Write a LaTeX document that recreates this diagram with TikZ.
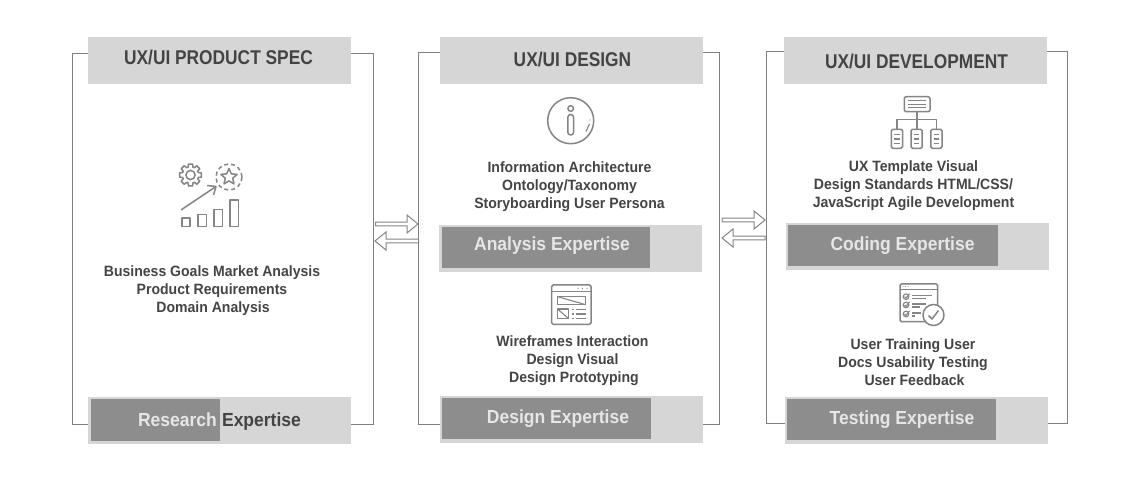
\documentclass[tikz,border=0pt]{standalone}
\usepackage{fontspec}
\setmainfont{Liberation Sans}[BoldFont={Liberation Sans Bold}]
\newfontfamily\headfont{Liberation Sans Bold}[FakeStretch=0.87]
\newfontfamily\labfont{Liberation Sans Bold}[FakeStretch=0.925]
\newfontfamily\bodyfont{Liberation Sans Bold}[FakeStretch=0.94]
\usetikzlibrary{calc}
\definecolor{txt}{HTML}{444444}
\definecolor{lite}{HTML}{D6D6D6}
\definecolor{dark}{HTML}{8E8D8E}
\definecolor{edge}{HTML}{808080}
\definecolor{ico}{HTML}{858585}
\definecolor{ltxt}{HTML}{E6E6E6}
\newcommand{\bx}[6]{\node[#6,minimum width={(#4-#2)*1bp},minimum height={(#5-#3)*1bp}] (#1) at ({(#2+#4)/2},{(#3+#5)/2}) {};}
\tikzset{
  x=1bp,y=-1bp,
  panel/.style={draw=edge,line width=1bp,inner sep=0,outer sep=0},
  litebox/.style={fill=lite,inner sep=0,outer sep=0},
  darkbox/.style={fill=dark,inner sep=0,outer sep=0},
  head/.style={text=txt,font=\fontsize{20}{22}\headfont,inner sep=0},
  body/.style={text=txt,font=\fontsize{15}{18}\bodyfont,align=center,inner sep=0},
  lab/.style={text=ltxt,font=\fontsize{19}{22}\labfont,inner sep=0,anchor=base},
  labd/.style={lab,text=txt},
  icon/.style={draw=ico,line width=1.5bp,line join=round},
  thin icon/.style={draw=ico,line width=1.1bp},
  hollow/.style={to path={let \p1=(\tikztostart),\p2=(\tikztotarget) in
     (\x1,\y1-1.9bp) -- (\x2-#1*11bp,\y1-1.9bp) -- (\x2-#1*11bp,\y1-9bp) -- (\x2,\y1)
     -- (\x2-#1*11bp,\y1+9bp) -- (\x2-#1*11bp,\y1+1.9bp) -- (\x1,\y1+1.9bp) -- cycle}},
  conn/.style={draw=ico,fill=white,line width=1bp,line join=miter},
}
\begin{document}
\begin{tikzpicture}
\useasboundingbox[fill=white] (0,0) rectangle (1140,480);
% panels
\bx{p1}{72}{53.5}{373.5}{424.5}{panel}
\bx{p2}{418.5}{52.5}{719}{424}{panel}
\bx{p3}{766.5}{51.5}{1067}{423}{panel}
% headers
\bx{h1}{88}{37}{351}{84}{litebox}
\bx{h2}{440}{37}{703}{84}{litebox}
\bx{h3}{784}{37}{1047}{84}{litebox}
\node[head] (t1) at (218.5,57.5) {UX/UI PRODUCT SPEC};
\node[head] (t2) at (572.5,59.5) {UX/UI DESIGN};
\node[head] (t3) at (916.5,61.5) {UX/UI DEVELOPMENT};
% footers
\bx{f1}{88}{397}{351}{444}{litebox}
\bx{d1}{91}{399}{220}{441}{darkbox}
\bx{f2}{439}{225}{702}{272}{litebox}
\bx{d2}{442}{227}{650}{268}{darkbox}
\bx{f3}{440}{396}{703}{443}{litebox}
\bx{d3}{442}{398}{651}{439}{darkbox}
\bx{f4}{786}{223}{1049}{270}{litebox}
\bx{d4}{788}{225}{998}{266}{darkbox}
\bx{f5}{785}{397}{1048}{444}{litebox}
\bx{d5}{787}{399}{996}{440}{darkbox}
\node[lab] (l1a) at (177.5,426) {Research};
\node[labd] (l1b) at (261.5,426) {Expertise};
\node[lab] (l2) at (552,251) {Analysis Expertise};
\node[lab] (l3) at (558,423) {Design Expertise};
\node[lab] (l4) at (902.5,251) {Coding Expertise};
\node[lab] (l5) at (902,424) {Testing Expertise};
% body texts
\node[body] (b1) at (212,290.5) {Business Goals Market Analysis\\Product Requirements\\\hspace*{2bp}Domain Analysis};
\node[body] (b2) at (569.5,186.5) {Information Architecture\\Ontology/Taxonomy\\Storyboarding User Persona};
\node[body] (b3) at (572.5,360.5) {Wireframes Interaction\\Design Visual\\\hspace*{3bp}Design Prototyping};
\node[body] (b4) at (913.5,185.5) {UX Template Visual\\Design Standards HTML/CSS/\\JavaScript Agile Development};
\node[body] (b5) at (913,362.5) {User Training User\\Docs Usability Testing\\\hspace*{3bp}User Feedback};
% connectors
\draw[conn] ([xshift=2bp,yshift=15bp]p1.east) to[hollow=1] ([xshift=-.5bp]p2.west);
\draw[conn] ([yshift=-2.75bp]p2.west) to[hollow=-1] ([xshift=1.5bp]p1.east);
\draw[conn] ([xshift=3bp,yshift=18.25bp]p2.east) to[hollow=1] ([xshift=-1.5bp]p3.west);
\draw[conn] ([xshift=-1.5bp,yshift=-.75bp]p3.west) to[hollow=-1] ([xshift=3bp]p2.east);
% icon: strategy
\begin{scope}[icon]
 \draw[icon] ({190.5+11.2*sin(-11)},{175-11.2*cos(-11)}) \foreach \a in {0,45,...,315}{
   -- ({190.5+11.2*sin(\a-11)},{175-11.2*cos(\a-11)}) -- ({190.5+11.2*sin(\a+11)},{175-11.2*cos(\a+11)})
   -- ({190.5+8.2*sin(\a+17)},{175-8.2*cos(\a+17)}) -- ({190.5+8.2*sin(\a+28)},{175-8.2*cos(\a+28)})} -- cycle;
 \draw[icon] (190.5,175) circle (4.6);
 \draw[icon,dash pattern=on 4bp off 3bp] (229,177) circle (13);
 \draw[icon] ({229+8.5*sin(0)},{177-8.5*cos(0)}) \foreach \a in {36,72,...,324}{
   -- ({229+(mod(\a,72)==0?8.5:3.9)*sin(\a)},{177-(mod(\a,72)==0?8.5:3.9)*cos(\a)})} -- cycle;
 \draw[icon] (181,210) -- (216,186.5);
 \draw[icon] (207,185.5) -- (216,186.5) -- (213.5,195);
 \draw[icon] (182,218) rectangle (190,226.5);
 \draw[icon] (198,214.5) rectangle (206.5,226.5);
 \draw[icon] (214,209.5) rectangle (222.5,226.5);
 \draw[icon] (230,200) rectangle (238.5,226.5);
 % info
 \draw[icon] (570.7,120.7) circle (23);
 \draw[icon] (570.7,108.5) circle (2.8);
 \draw[icon,rounded corners=2.8bp] (567.8,114.5) rectangle (573.6,135);
 \fill[ico] (590,120) circle (.7);
 \draw[thin icon] (589.5,124) -- (586,131.5);
 % wireframe
 \draw[icon,rounded corners=1.5bp] (551.7,285) rectangle (591,324.3);
 \draw[icon] (551.7,291.7) -- (591,291.7);
 \foreach \x in {578,582.5,587}{\fill[ico] (\x,288.3) circle (.7);}
 \draw[icon] (557.7,296.7) rectangle (585.7,304.7);
 \draw[thin icon] (557.7,296.7) -- (585.7,304.7);
 \draw[icon] (557.7,309.2) rectangle (568.7,318.7);
 \draw[thin icon] (557.7,309.2) -- (568.7,318.7);
 \foreach \y in {309.7,314,318.5}{
   \draw[thin icon] (576,\y) -- (586,\y);
   \draw[thin icon] (572,\y) -- (574,\y);}
 % org chart
 \draw[icon,rounded corners=2bp] (904.3,96.7) rectangle (930,111.7);
 \foreach \y in {100.7,104.2,107.7}{\draw[thin icon] (908,\y) -- (926.3,\y);}
 \draw[icon] (917,111.7) -- (917,129.3);
 \draw[icon] (897,129.3) -- (897,119.3) -- (936.7,119.3) -- (936.7,129.3);
 \foreach \x in {891.3,911,930.8}{
   \draw[icon,rounded corners=1.5bp] (\x,129.3) rectangle (\x+11.2,148.3);
   \foreach \y in {134.5,139,143.5}{\draw[thin icon] (\x+3,\y) -- (\x+8.2,\y);}
 }
 % checklist
 \draw[icon,rounded corners=1.5bp] (900,284) rectangle (937.7,321.7);
 \draw[icon] (900,289.3) -- (937.7,289.3);
 \foreach \x in {903,905.5,908}{\fill[ico] (\x,286.7) circle (.5);}
 \foreach \y/\e in {296.7/932,305/926,314/921}{
   \draw[thin icon] (906,\y) circle (2.8);
   \draw[thin icon] (904.5,\y) -- (906,\y+1.5) -- (909.5,\y-3);
   \draw[thin icon] (912,\y-1) -- (\e,\y-1);
   \draw[thin icon] (912,\y+2) -- (\e-6,\y+2);
 }
 \draw[icon,fill=white] (933.5,315) circle (10.5);
 \draw[icon] (928.5,315.5) -- (932,319) -- (938.5,310.5);
\end{scope}
\end{tikzpicture}
\end{document}
